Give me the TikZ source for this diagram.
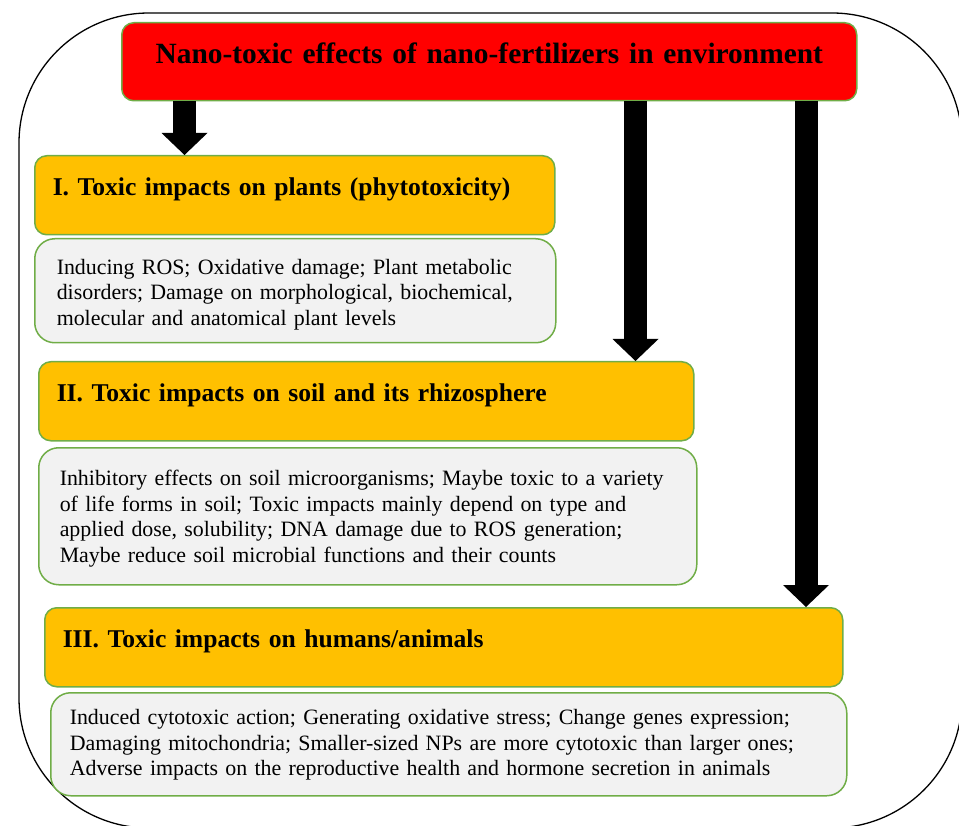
\documentclass[tikz,border=0pt]{standalone}
\usepackage{fontspec}
\setmainfont{Liberation Serif}
\usetikzlibrary{arrows.meta}
\definecolor{nfred}{HTML}{FF0000}
\definecolor{nforange}{HTML}{FFC000}
\definecolor{nfgrey}{HTML}{F2F2F2}
\definecolor{nfgreen}{HTML}{70AD47}

\begin{document}
\begin{tikzpicture}[x=1pt, y=-1pt,
  box/.style={draw=nfgreen, line width=1.5pt, anchor=north west, align=left},
  ttl/.style={box, fill=nfred, rounded corners=12pt, align=center, text width=699pt,
    inner xsep=18pt, inner ysep=0pt, text height=41pt, text depth=37pt,
    font=\bfseries\fontsize{29.4}{34}\selectfont},
  hdr/.style={box, fill=nforange, rounded corners=12pt, inner xsep=18pt, inner ysep=0pt,
    text height=40pt, text depth=39pt, font=\bfseries\fontsize{25.6}{30}\selectfont},
  desc/.style={box, fill=nfgrey, rounded corners=20pt, font=\fontsize{21.9}{25.5}\selectfont},
  fat/.style={line width=23pt, -{Triangle[width=46pt, length=22pt, line width=0pt]}}]
  \useasboundingbox (0,0) rectangle (959,826);
  \draw[line width=1.3pt, rounded corners=130pt] (19,13) rectangle (962,828);

  \node[ttl] (title) at (121,22) {Nano-toxic effects of nano-fertilizers in environment};

  \node[hdr, text width=484pt] (plants) at (34,155) {I. Toxic impacts on plants (phytotoxicity)};
  \node[desc, text width=477pt, inner xsep=22pt, minimum height=104pt] (plantsd) at (34,238)
    {\rule{0pt}{23pt}Inducing ROS; Oxidative damage; Plant metabolic\\
     disorders; Damage on morphological, biochemical,\\
     molecular and anatomical plant levels};

  \node[hdr, text width=619pt] (soil) at (38,361) {II. Toxic impacts on soil and its rhizosphere};
  \node[desc, text width=616pt, inner xsep=21pt, minimum height=137pt] (soild) at (38,447)
    {\rule{0pt}{20pt}Inhibitory effects on soil microorganisms; Maybe toxic to a variety\\
     of life forms in soil; Toxic impacts mainly depend on type and\\
     applied dose, solubility; DNA damage due to ROS generation;\\
     Maybe reduce soil microbial functions and their counts};

  \node[hdr, text width=762pt] (human) at (44,607) {III. Toxic impacts on humans/animals};
  \node[desc, text width=758pt, inner xsep=19pt, minimum height=103pt] (humand) at (50,692)
    {\rule{0pt}{17pt}Induced cytotoxic action; Generating oxidative stress; Change genes expression;\\
     Damaging mitochondria; Smaller-sized NPs are more cytotoxic than larger ones;\\
     Adverse impacts on the reproductive health and hormone secretion in animals};

  % block arrows from the title down to each header
  \coordinate (a1) at (184.5,0);
  \coordinate (a2) at (635.5,0);
  \coordinate (a3) at (806,0);
  \draw[fat] (title.south -| a1) -- (plants.north -| a1);
  \draw[fat] (title.south -| a2) -- (soil.north -| a2);
  \draw[fat] (title.south -| a3) -- (human.north -| a3);
\end{tikzpicture}
\end{document}
